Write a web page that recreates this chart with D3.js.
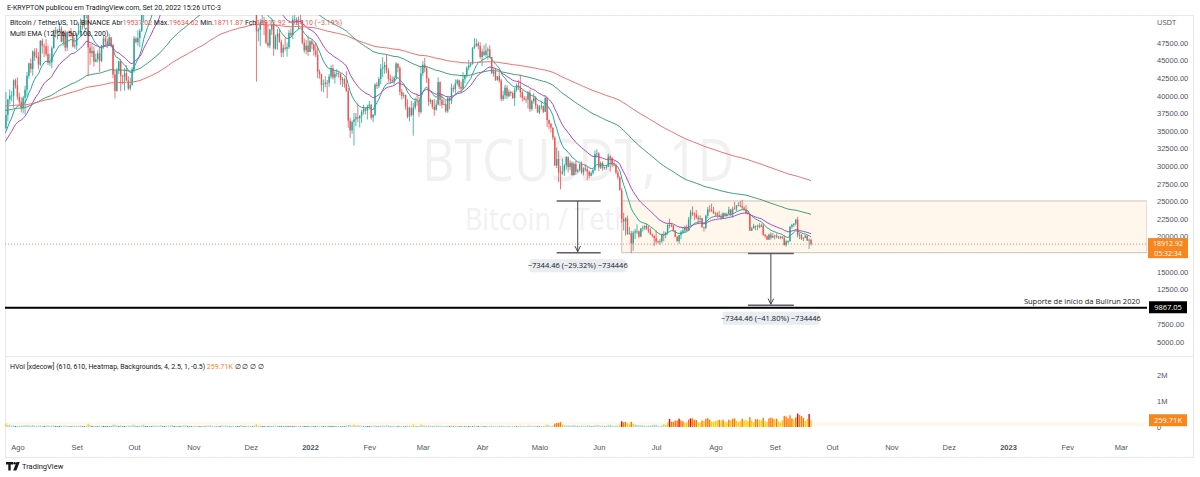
<!DOCTYPE html>
<html>
<head>
<meta charset="utf-8">
<script src="https://cdn.jsdelivr.net/npm/d3@7"></script>
<style>
  body { margin: 0; background: #fff; }
  svg { display: block; font-family: 'Open Sans', 'Noto Sans', sans-serif; }
</style>
</head>
<body>
<svg id="chart" width="1200" height="477"></svg>
<script>
// BTCUSDT daily candles, Binance, 2021-07-25 .. 2022-09-20 (one value per day)
const firstDay = Date.UTC(2021, 6, 25)
const firstOpen = 34290

const closes = [
  35400,37270,39460,40020,40020,42210,41460,
  39850,39150,38210,39720,40870,42840,44610,43810,46290,45600,45550,44430,47830,47100,47020,45940,44690,44740,46760,49340,48870,49280,49520,47690,48990,46850,49070,48900,48810,47020,47170,
  48830,49250,49940,49920,51760,52660,46860,46050,46380,44850,45170,46030,44950,47110,48120,47740,47300,48290,47240,43010,40690,43560,44900,42840,42720,43210,42170,41030,41520,43790,
  48140,47630,48200,49220,51470,55320,53790,53950,54950,54660,57470,56010,57370,57350,61670,60880,61530,62040,64280,66000,62210,60690,61290,60860,63080,60330,58460,60590,62250,61890,61300,
  61000,63230,62940,61440,61010,61530,63270,67530,66930,64860,64770,64160,64400,65520,63610,60060,60370,56880,58050,59710,58620,56250,57270,57150,58960,53730,54720,57270,57810,56950,
  57180,56480,53600,49150,49400,50440,50590,50470,47550,47140,49390,50100,46710,48380,48860,47630,46130,46830,46680,46910,48940,48630,50820,50840,50430,50800,50720,47540,46460,47120,46220,
  47720,47290,46430,45830,43430,43080,41550,41670,41860,41820,42740,43920,42590,43100,43180,43110,42250,42370,41660,40680,36450,35070,36280,36650,36950,36810,37160,37710,38170,37880,38470,
  38730,36900,37320,41570,41380,42380,43840,44040,44380,43570,42390,42210,42050,42540,44580,43960,40540,40000,40120,38430,37020,38270,37260,38330,39210,39110,37700,43190,
  44420,43920,42450,39150,39400,38420,37990,38740,41940,39420,38730,38810,37790,39670,39280,41110,40920,41760,42200,41260,41000,42360,42880,43960,44310,44510,46820,47130,47430,47060,45510,
  46280,45810,46410,46580,45500,43170,43440,42250,42750,42160,39530,40070,41150,39940,40550,40380,39680,40800,41500,41360,40480,39710,39470,39450,40430,38110,39240,39740,38600,37630,
  38470,38520,37720,39690,36550,36010,35470,34040,30080,31020,29100,28960,29280,30080,31330,29870,30430,28720,30310,29200,29430,30320,29100,29650,29540,29200,28630,29030,29470,31730,31800,
  29800,30450,29700,29860,29910,31370,31130,30200,30110,29090,28420,26570,22490,22140,22580,20380,20450,19020,20550,20720,20720,19990,21110,21240,21490,21040,20740,20280,20100,19780,
  19300,19250,19320,20240,20180,20560,21620,21590,21590,20850,19960,19330,20210,20590,20830,21200,20790,22430,23410,23220,23150,22680,22450,22580,21310,21250,22950,23840,23770,23640,23300,
  23270,22990,22820,22620,23310,22950,23180,23810,23150,23950,23930,24400,24440,24310,24100,23850,23340,23190,20830,21140,21520,21400,21530,21370,21560,20240,20040,19550,20280,19810,20050,
  20130,19950,19830,20000,19800,18790,19290,19320,21360,21650,21830,22400,20170,20230,19700,19800,20110,19420,19537.02,18912.92
]

const highs = [
  35400,40550,39540,40900,40640,42320,42420,
  42600,40450,39780,39970,41400,43390,44700,45310,46450,46740,46780,46220,47890,48140,47400,48050,47160,46000,47050,49380,49760,49500,50500,49870,49250,49350,49170,49300,49630,48910,48250,
  48950,50400,51000,50560,51900,52800,52920,47360,47330,47000,45990,46460,46880,47250,48450,48500,48160,48810,48370,47330,43640,44000,44980,45200,42970,43940,44350,42790,42590,44130,
  48500,48340,49300,49500,51890,55750,55330,56100,55490,56560,57840,57680,57600,58530,62930,62000,61720,62650,64490,67000,66640,63730,61500,61490,63710,63290,61500,62500,62980,62350,62400,
  62440,64270,63520,63130,62590,61560,63290,67790,68530,69000,65600,65460,64970,65530,66400,63620,60820,60980,58320,59850,60050,59270,57880,57810,59400,59180,55280,57450,58870,59180,
  59040,57380,57600,53870,49700,50890,51940,51200,50800,50100,49480,50800,50210,48700,49500,49420,47990,47310,48300,47540,49330,49580,51380,51810,51160,51280,52090,50700,48140,47900,48550,
  47950,47990,47570,47510,47070,43750,43150,42300,42790,42250,43100,44320,44460,43450,43790,43480,43200,42680,42570,43500,41100,36840,36500,37550,37550,38920,37230,38000,38720,38360,38740,
  39270,38860,37390,41770,41950,42660,44500,45490,44800,45820,43920,43000,42760,42850,44770,44580,44200,40960,40480,40140,39490,38450,39270,38970,39730,40290,39860,44230,
  44950,45400,44100,42530,39640,39440,39550,39360,42590,42060,40260,39490,39310,39920,39890,41720,41480,42330,42400,42300,42000,43350,43020,44200,45100,44800,46920,48190,48100,47700,47600,
  46720,47210,47440,46890,47200,45510,43900,43970,42800,43430,42410,40700,41560,41500,40890,40710,40600,41100,41760,42200,42980,40790,39980,39930,40620,40800,39470,40370,39930,38800,
  38680,39170,38640,40020,39850,36650,36130,35510,34240,32660,32190,30030,31080,30340,31410,31300,30790,30670,30550,30780,29630,30400,30680,29830,30220,29860,29390,29250,29540,32220,32400,
  31980,30660,30680,29950,30160,31770,31560,31330,30700,30380,29440,28550,26900,23360,22750,22980,21360,20790,20820,21080,21720,20860,21200,21520,21610,21870,21520,21190,20430,20170,
  20880,19400,19650,20350,20750,20680,21840,22530,21950,21600,20870,20070,20260,20880,21200,21560,21680,22780,23800,24280,23430,23760,22990,22990,22660,21350,23110,24200,24440,24670,24190,
  23510,23460,23650,23220,23450,23350,23400,24250,23930,24230,24920,24450,24890,25050,25210,24250,24450,23600,23200,21380,21800,21530,21680,21900,21820,21880,20350,20140,20400,20580,20490,
  20200,20440,20060,20060,20060,20180,19460,19450,21500,21800,21860,22490,22800,20560,20330,19900,20190,20120,19690,19634.62
]

const lows = [
  33880,35200,36380,38770,39200,38320,41020,
  39420,38690,37640,37510,37330,39870,42450,43260,42840,44960,45320,43770,44230,45970,45520,45660,44380,44210,43930,46700,48290,48000,49020,47600,47120,46320,46360,48370,48310,46860,46700,
  46510,48620,48370,49400,49500,50950,42840,44410,45500,44140,44740,44740,43370,44750,46680,47020,46750,47060,46850,42500,39600,40550,43080,40680,41650,40750,42100,40830,40750,41410,
  43280,47430,47120,46890,49070,50380,53360,53660,53700,54090,54420,53880,54270,56820,56850,60100,58960,59840,61320,63480,62000,60000,59710,59510,60650,59820,58000,57820,60170,60730,59980,
  59410,60620,60380,60680,60720,60060,61350,63270,66380,62820,64110,62280,63400,63580,63360,58570,58370,56470,55600,57350,58490,55610,55300,55840,56700,53500,53610,53250,56700,55880,
  56460,55840,51680,42000,47730,47100,50040,48600,47320,46850,46750,48640,45670,46550,46550,47530,45500,45530,46410,45560,46630,48420,48050,50380,50170,49420,50450,47310,46100,45900,45680,
  46210,46650,45700,45500,42500,42430,40610,40500,41200,39650,41270,42450,42310,41730,42720,42580,41540,41250,41140,40550,35440,34010,34600,32920,35700,36230,35510,36150,37350,37350,36630,
  38000,36590,36250,37100,40960,41100,41650,42670,43120,43190,42000,41690,41870,41570,42430,43320,40070,39450,39640,38000,36800,36350,37040,34320,38020,38550,37020,37450,
  42820,43330,41830,38550,38840,38090,37160,37870,38660,38540,38220,38660,37580,37580,38100,38820,40500,40140,41500,40910,40470,40880,41750,42590,43580,44070,44420,46660,46940,46570,45200,
  44200,45620,45520,45120,45350,43120,42730,42110,42120,41870,39200,39250,39550,39550,39770,39990,39550,38540,40570,40820,39750,39180,39320,38930,38200,37700,37870,38880,38170,37580,
  37390,38050,37510,37670,35570,35250,34790,33710,30030,29730,27700,26700,28750,28600,29490,29110,29430,28650,28700,28730,28950,29230,28860,28680,29300,28020,28260,28540,28800,29300,31200,
  29300,29590,29350,29500,29510,29880,29220,29840,29940,28850,28100,26560,21930,20850,20110,20230,20250,17620,17960,19640,20350,19770,19890,20700,20920,20960,20510,20210,19850,18630,
  18970,19000,18780,19060,19300,19760,20230,21190,21320,20650,19910,19240,18910,19620,20380,20480,20760,20760,21580,22910,22340,22500,21930,22260,21250,20710,21040,22580,23410,23500,23230,
  22850,22650,22680,22430,22590,22930,22840,23160,22880,22660,23860,23590,24290,24150,23770,23690,23180,23080,20780,20760,21110,20890,20890,21150,21310,20110,19800,19520,19530,19540,19800,
  19560,19750,19650,19600,19630,18680,18540,19010,19300,21110,21350,21560,19860,19620,19500,19320,19760,19370,18230,18711.87
]

// daily volume, thousands of BTC
const volumesK = [
  38,140,83,82,50,61,40,
  44,49,54,57,65,73,60,53,73,52,43,50,62,42,37,55,55,48,54,65,36,28,41,48,44,58,42,26,31,50,48,
  49,49,57,30,30,43,125,70,41,48,25,28,49,42,40,36,35,29,29,88,88,56,37,60,26,39,45,52,50,66,
  90,25,28,50,60,90,40,35,25,30,55,55,45,45,70,30,33,45,55,60,70,40,20,26,35,45,60,60,35,25,30,
  40,40,40,30,28,20,26,55,45,70,40,40,20,20,35,60,45,55,40,25,20,45,40,35,30,70,25,30,40,50,
  40,30,50,100,40,50,35,35,40,35,25,25,50,40,45,30,35,25,25,30,35,25,35,25,15,15,25,40,35,35,30,
  20,20,30,35,50,40,50,35,20,45,35,35,35,30,20,15,25,30,30,45,80,80,40,90,50,65,55,40,25,20,35,
  35,40,40,60,25,25,50,55,40,65,55,25,20,40,40,35,45,40,20,30,50,50,40,95,40,25,40,90,
  70,55,40,55,20,20,50,45,60,45,40,15,20,40,35,50,25,40,20,25,30,40,30,40,35,15,30,60,45,35,40,
  45,30,25,35,40,50,35,35,15,20,55,45,35,35,20,10,15,40,30,40,50,35,15,15,45,55,40,40,40,30,
  25,40,35,50,85,60,35,60,130,150,160,190,90,70,55,60,55,60,70,60,25,35,60,45,40,65,60,25,20,70,60,
  70,50,50,20,20,70,80,50,45,60,50,90,220,180,200,140,100,200,130,90,85,70,70,60,50,40,60,50,70,90,
  80,40,40,60,110,90,170,310,210,200,250,250,320,250,220,170,180,290,330,330,280,270,190,170,250,230,320,340,280,200,200,
  230,260,270,250,280,210,190,280,260,320,330,240,200,230,320,250,270,230,380,260,180,300,300,270,260,350,220,200,330,360,330,
  300,320,200,180,260,430,400,330,450,330,290,370,520,460,420,350,230,310,500,259.71
]

// Multi EMA lengths and the value each line carries into the first visible bar
const emaLengths = [12, 26, 100, 200]
const emaSeeds = [34300, 33200, 38000, 38600]
const emaColors = ['#26a69a', '#ab47bc', '#3d9b76', '#ef6c6c']

const priceTicks = [47500, 45000, 42500, 40000, 37500, 35000, 32500, 30000, 27500, 25000, 22500, 20000, 15000, 12500, 7500, 5000]
const volumeTicks = [0, 1e6, 2e6]
const volumeTickLabels = ['0', '1M', '2M']
const monthLabels = ['', 'Fev', 'Mar', 'Abr', 'Maio', 'Jun', 'Jul', 'Ago', 'Set', 'Out', 'Nov', 'Dez']

const lastPrice = 18912.92
const supportPrice = 9867.05
const zone = { start: Date.UTC(2022, 5, 13), top: 25047.46, bottom: 17703 }
const measures = [
  { from: Date.UTC(2022, 4, 10), to: Date.UTC(2022, 5, 2), mid: Date.UTC(2022, 4, 21), start: 25047.46, end: 17703, label: '\u22127344.46 (\u221229.32%) \u2212734446' },
  { from: Date.UTC(2022, 7, 18), to: Date.UTC(2022, 8, 11), mid: Date.UTC(2022, 7, 30), start: 17570, end: 10225.54, label: '\u22127344.46 (\u221241.80%) \u2212734446' }
]

// heatmap volume thresholds (HVol): extra high, high, medium, normal
const heatThresholds = [4, 2.5, 1, -0.5]
const heatColors = ['#ff0000', '#ff7800', '#ffcf03', '#a0d6dc', '#1f9cac']

// ---------------------------------------------------------------
const svg = d3.select('#chart')
const left = 5, plotRight = 1147, frameRight = 1193
const paneTop = 15, paneSplit = 356, frameBottom = 457

const bars = closes.map((c, i) => ({
  date: new Date(firstDay + i * 864e5),
  open: i === 0 ? firstOpen : closes[i - 1],
  high: highs[i],
  low: lows[i],
  close: c,
  volume: volumesK[i] * 1000
}))

const x = d3.scaleUtc()
  .domain([new Date(Date.UTC(2022, 0, 1)), new Date(Date.UTC(2023, 0, 1))])
  .range([310, 1008])
const y = d3.scaleLinear().domain([5000, 47500]).range([342, 43])
const yv = d3.scaleLinear().domain([0, 1e6]).range([427, 401])

const defs = svg.append('defs')
defs.append('clipPath').attr('id', 'clipPrice')
  .append('rect').attr('x', left).attr('y', paneTop).attr('width', plotRight - left).attr('height', paneSplit - paneTop)
defs.append('clipPath').attr('id', 'clipVol')
  .append('rect').attr('x', left).attr('y', paneSplit).attr('width', plotRight - left).attr('height', 437 - paneSplit)
defs.append('marker').attr('id', 'arrow').attr('viewBox', '0 0 10 10')
  .attr('refX', 9).attr('refY', 5).attr('markerWidth', 7).attr('markerHeight', 7).attr('orient', 'auto')
  .append('path').attr('d', 'M1,1L9,5L1,9').attr('fill', 'none').attr('stroke', '#444').attr('stroke-width', 1.4)

// frame
svg.append('rect').attr('x', left + 0.5).attr('y', paneTop + 0.5)
  .attr('width', frameRight - left).attr('height', frameBottom - paneTop)
  .attr('fill', 'none').attr('stroke', '#e6e8ee')
svg.append('line').attr('x1', left).attr('x2', frameRight).attr('y1', paneSplit + 0.5).attr('y2', paneSplit + 0.5)
  .attr('stroke', '#e6e8ee')

// watermark
const wm = svg.append('g').attr('fill', '#f1f1f1').attr('text-anchor', 'middle')
wm.append('text').attr('x', 578).attr('y', 181).attr('font-size', 58)
  .attr('textLength', 312).attr('lengthAdjust', 'spacingAndGlyphs').text('BTCUSDT, 1D')
wm.append('text').attr('x', 578).attr('y', 230).attr('font-size', 31)
  .attr('textLength', 226).attr('lengthAdjust', 'spacingAndGlyphs').text('Bitcoin / TetherUS')

const price = svg.append('g').attr('clip-path', 'url(#clipPrice)')

// range rectangle
price.append('rect')
  .attr('x', x(zone.start)).attr('y', y(zone.top))
  .attr('width', plotRight - x(zone.start)).attr('height', y(zone.bottom) - y(zone.top))
  .attr('fill', '#fff7ec').attr('stroke', '#d3ccc2').attr('stroke-width', 1.2)

// last price dotted line
price.append('line').attr('x1', left).attr('x2', plotRight)
  .attr('y1', y(lastPrice)).attr('y2', y(lastPrice))
  .attr('stroke', '#ef5350').attr('stroke-opacity', 0.7).attr('stroke-dasharray', '1,2')

// candles
const bw = 1.4
const candle = price.append('g').selectAll('g').data(bars).join('g')
  .attr('stroke', d => d.close >= d.open ? '#26a69a' : '#ef5350')
  .attr('fill', d => d.close >= d.open ? '#26a69a' : '#ef5350')
candle.append('line')
  .attr('x1', d => x(d.date)).attr('x2', d => x(d.date))
  .attr('y1', d => y(d.high)).attr('y2', d => y(d.low))
  .attr('stroke-width', 0.8)
candle.append('rect')
  .attr('x', d => x(d.date) - bw / 2).attr('width', bw)
  .attr('y', d => y(Math.max(d.open, d.close)))
  .attr('height', d => Math.max(0.8, Math.abs(y(d.open) - y(d.close))))
  .attr('stroke', 'none')

// EMA lines
emaLengths.forEach((len, k) => {
  const a = 2 / (len + 1)
  let e = emaSeeds[k]
  const pts = bars.map(b => { e = b.close * a + e * (1 - a); return { date: b.date, v: e } })
  price.append('path').datum(pts)
    .attr('fill', 'none').attr('stroke', emaColors[k]).attr('stroke-width', 1)
    .attr('d', d3.line().x(d => x(d.date)).y(d => y(d.v)))
})

// support line
price.append('line').attr('x1', left).attr('x2', plotRight)
  .attr('y1', y(supportPrice)).attr('y2', y(supportPrice))
  .attr('stroke', '#000').attr('stroke-width', 2)
svg.append('text').attr('x', 1140).attr('y', y(supportPrice) - 4)
  .attr('text-anchor', 'end').attr('font-size', 7.5).attr('fill', '#131722')
  .text('Suporte de início da Bullrun 2020')

// measurement drawings
measures.forEach(m => {
  const g = svg.append('g')
  g.selectAll('line.h').data([m.start, m.end]).join('line')
    .attr('x1', x(m.from)).attr('x2', x(m.to))
    .attr('y1', d => y(d)).attr('y2', d => y(d))
    .attr('stroke', '#5d5f66').attr('stroke-width', 1.5)
  g.append('line').attr('x1', x(m.mid)).attr('x2', x(m.mid))
    .attr('y1', y(m.start)).attr('y2', y(m.end) - 1)
    .attr('stroke', '#444').attr('stroke-width', 1).attr('marker-end', 'url(#arrow)')
  const ly = y(m.end) + 13
  g.append('rect').attr('x', x(m.mid) - 48).attr('y', ly - 6.5).attr('width', 96).attr('height', 13)
    .attr('rx', 1.5).attr('fill', '#e9ecf1')
  g.append('text').attr('x', x(m.mid)).attr('y', ly + 2.6).attr('text-anchor', 'middle')
    .attr('font-size', 7.5).attr('fill', '#131722').text(m.label)
})

// price axis
const yAxis = svg.append('g').attr('transform', `translate(${plotRight + 4},0)`)
  .call(d3.axisRight(y).tickValues(priceTicks).tickFormat(d3.format('.2f')).tickSize(0).tickPadding(6))
yAxis.select('.domain').remove()
yAxis.selectAll('text').attr('font-size', 7.5).attr('fill', '#50535e').attr('font-family', null)
svg.append('text').attr('x', plotRight + 10).attr('y', 25).attr('font-size', 7.5).attr('fill', '#50535e').text('USDT')

// last price and support labels
const ly0 = y(lastPrice)
svg.append('rect').attr('x', 1148).attr('y', ly0 - 6).attr('width', 40).attr('height', 20).attr('fill', '#f7861e')
const lp = svg.append('text').attr('text-anchor', 'middle').attr('font-size', 7).attr('fill', '#fff')
lp.append('tspan').attr('x', 1168).attr('y', ly0 + 2).text(d3.format('.2f')(lastPrice))
lp.append('tspan').attr('x', 1168).attr('dy', 9.5).text('05:32:34')
svg.append('rect').attr('x', 1149).attr('y', y(supportPrice) - 6.5).attr('width', 38).attr('height', 12).attr('fill', '#000')
svg.append('text').attr('x', 1168).attr('y', y(supportPrice) + 2.6).attr('text-anchor', 'middle')
  .attr('font-size', 7.5).attr('fill', '#fff').text(d3.format('.2f')(supportPrice))

// volume pane (HVol heatmap). The 610-bar window reaches back before the first
// bar shown, so the z-score blends stats of the bars seen so far with the whole span.
const vols = bars.map(d => d.volume)
const allMean = d3.mean(vols), allDev = d3.deviation(vols)
const heat = i => {
  const win = vols.slice(0, Math.max(i + 1, 60))
  const zRun = (vols[i] - d3.mean(win)) / d3.deviation(win)
  const zAll = (vols[i] - allMean) / allDev
  const z = (zRun + zAll) / 2
  const k = heatThresholds.findIndex(t => z > t)
  return heatColors[k === -1 ? 4 : k]
}
const vol = svg.append('g').attr('clip-path', 'url(#clipVol)')
vol.append('rect').attr('x', left).attr('width', plotRight - left)
  .attr('y', yv(allMean + allDev)).attr('height', yv(Math.max(0, allMean - 0.5 * allDev)) - yv(allMean + allDev))
  .attr('fill', '#fff4e0').attr('opacity', 0.6)
vol.selectAll('rect.v').data(bars).join('rect')
  .attr('x', d => x(d.date) - bw / 2).attr('width', bw)
  .attr('y', d => yv(d.volume)).attr('height', d => yv(0) - yv(d.volume))
  .attr('fill', (d, i) => heat(i))

const vAxis = svg.append('g').attr('transform', `translate(${plotRight + 4},0)`)
  .call(d3.axisRight(yv).tickValues(volumeTicks).tickFormat((d, i) => volumeTickLabels[i]).tickSize(0).tickPadding(6))
vAxis.select('.domain').remove()
vAxis.selectAll('text').attr('font-size', 7.5).attr('fill', '#50535e').attr('font-family', null)
const lastVol = vols[vols.length - 1]
svg.append('rect').attr('x', 1149).attr('y', yv(lastVol) - 6).attr('width', 38).attr('height', 12).attr('fill', '#f7861e')
svg.append('text').attr('x', 1168).attr('y', yv(lastVol) + 2.6).attr('text-anchor', 'middle')
  .attr('font-size', 7.5).attr('fill', '#fff').text(d3.format('.2f')(lastVol / 1000) + 'K')

// time axis
const months = d3.utcMonth.range(new Date(Date.UTC(2021, 7, 1)), new Date(Date.UTC(2023, 3, 1)))
const xAxis = svg.append('g').attr('transform', 'translate(0,443)')
  .call(d3.axisBottom(x).tickValues(months)
    .tickFormat(d => d.getUTCMonth() === 0 ? String(d.getUTCFullYear()) : monthLabels[d.getUTCMonth()])
    .tickSize(0).tickPadding(2))
xAxis.select('.domain').remove()
xAxis.selectAll('text').attr('font-size', 7.5).attr('fill', '#50535e').attr('font-family', null)
  .attr('font-weight', d => d.getUTCMonth() === 0 ? 600 : null)

// legends: one text per line, coloured pieces as tspans
const legend = (xx, yy, parts, size) => {
  const t = svg.append('text').attr('x', xx).attr('y', yy)
    .attr('font-family', 'Roboto, sans-serif').attr('font-size', size || 7)
  parts.forEach(([s, c]) => t.append('tspan').attr('fill', c).text(s))
}
const last = bars[bars.length - 1]
const f2 = d3.format('.2f')
const dark = '#131722', red = '#ef5350'
legend(7, 10, [['E-KRYPTON publicou em TradingView.com, Set 20, 2022 15:26 UTC-3', dark]], 7)
legend(10, 25, [
  ['Bitcoin / TetherUS, 1D, BINANCE  Abr', dark], [f2(last.open), red],
  ['  Máx.', dark], [f2(last.high), red],
  ['  Mín.', dark], [f2(last.low), red],
  ['  Fch', dark], [f2(lastPrice), red],
  ['  \u2212624.10 (\u22123.19%)', red]
])
legend(10, 36, [['Multi EMA (12, 26, 50, 100, 200)', dark]])
legend(10, 369, [
  ['HVol [xdecow] (610, 610, Heatmap, Backgrounds, 4, 2.5, 1, -0.5) ', dark],
  ['259.71K', '#f7861e'], ['  \u2205  \u2205  \u2205  \u2205', dark]
])

// TradingView mark
const logo = svg.append('g').attr('fill', dark)
logo.append('path').attr('d', 'M6,462h7v2.4h-2.3v6h-2.4v-6H6z')
logo.append('circle').attr('cx', 14.6).attr('cy', 463.3).attr('r', 1.3)
logo.append('path').attr('d', 'M16.5,462h3.2l-3.3,8.4h-3.2z')
legend(22, 469, [['TradingView', dark]], 7.5)
</script>
</body>
</html>
